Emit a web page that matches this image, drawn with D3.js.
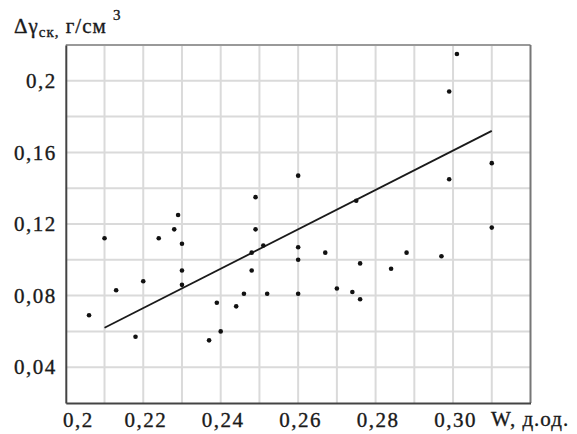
<!DOCTYPE html>
<html>
<head>
<meta charset="utf-8">
<script src="https://cdnjs.cloudflare.com/ajax/libs/d3/7.8.5/d3.min.js"></script>
<style>
  body { margin: 0; background: #fff; }
</style>
</head>
<body>
<svg id="chart" width="577" height="434"></svg>
<script>
// W, д.од. (moisture) and Δγск, г/см3
var wValues = [0.206, 0.210, 0.213, 0.218, 0.220, 0.224, 0.228, 0.229, 0.230, 0.230,
               0.230, 0.237, 0.239, 0.240, 0.244, 0.246, 0.248, 0.248, 0.249, 0.249,
               0.251, 0.252, 0.260, 0.260, 0.260, 0.260, 0.267, 0.270, 0.274, 0.275,
               0.276, 0.276, 0.284, 0.288, 0.297, 0.299, 0.299, 0.301, 0.310, 0.310];
var gValues = [0.069, 0.112, 0.083, 0.057, 0.088, 0.112, 0.117, 0.125, 0.109, 0.094,
               0.086, 0.055, 0.076, 0.060, 0.074, 0.081, 0.104, 0.094, 0.135, 0.117,
               0.108, 0.081, 0.147, 0.107, 0.100, 0.081, 0.104, 0.084, 0.082, 0.133,
               0.078, 0.098, 0.095, 0.104, 0.102, 0.194, 0.145, 0.215, 0.154, 0.118];

// regression line end points
var trendW = [0.21, 0.31];
var trendG = [0.062, 0.172];

var xTicks = [0.20, 0.22, 0.24, 0.26, 0.28, 0.30];
var xTickLabels = ["0,2", "0,22", "0,24", "0,26", "0,28", "0,30"];
var yTicks = [0.04, 0.08, 0.12, 0.16, 0.20];
var yTickLabels = ["0,04", "0,08", "0,12", "0,16", "0,2"];
var xGrid = [0.21, 0.22, 0.23, 0.24, 0.25, 0.26, 0.27, 0.28, 0.29, 0.30, 0.31];
var yGrid = [0.04, 0.06, 0.08, 0.10, 0.12, 0.14, 0.16, 0.18, 0.20];

var FONT = "'Liberation Serif'";

var svg = d3.select("#chart");

var x = d3.scaleLinear().domain([0.20, 0.32]).range([65.8, 530.5]);
var y = d3.scaleLinear().domain([0.02, 0.22]).range([403, 45]);

function serif(sel, size) {
  sel.style("font-family", FONT)
    .attr("font-size", size)
    .attr("fill", "#1a1a1a")
    .attr("stroke", "#1a1a1a")
    .attr("stroke-width", 0.35);
}

// grid
var grid = svg.append("g").attr("class", "grid")
  .attr("stroke", "#dadada").attr("stroke-width", 2);
grid.selectAll("line.v").data(xGrid).enter().append("line")
  .attr("class", "v")
  .attr("x1", function(d) { return x(d); }).attr("x2", function(d) { return x(d); })
  .attr("y1", y(0.22)).attr("y2", y(0.02));
grid.selectAll("line.h").data(yGrid).enter().append("line")
  .attr("class", "h")
  .attr("x1", x(0.20)).attr("x2", x(0.32))
  .attr("y1", function(d) { return y(d); }).attr("y2", function(d) { return y(d); });

// frame
svg.append("line").attr("x1", x(0.20)).attr("x2", x(0.32)).attr("y1", y(0.22)).attr("y2", y(0.22))
  .attr("stroke", "#999").attr("stroke-width", 2);
svg.append("line").attr("x1", x(0.32)).attr("x2", x(0.32)).attr("y1", y(0.22)).attr("y2", y(0.02))
  .attr("stroke", "#777").attr("stroke-width", 2);

// axes
var xAxis = d3.axisBottom(x).tickValues(xTicks).tickSize(0).tickPadding(9)
  .tickFormat(function(d, i) { return xTickLabels[i]; });
var gx = svg.append("g").attr("transform", "translate(0," + y(0.02) + ")").call(xAxis);
gx.select(".domain").attr("stroke", "#444").attr("stroke-width", 2);
gx.selectAll("text").call(serif, 21).attr("letter-spacing", 1.5)
  .attr("dx", function(d, i) { return i === 0 ? 12 : 2; });

var yAxis = d3.axisLeft(y).tickValues(yTicks).tickSize(0).tickPadding(9)
  .tickFormat(function(d, i) { return yTickLabels[i]; });
var gy = svg.append("g").attr("transform", "translate(" + x(0.20) + ",0)").call(yAxis);
gy.select(".domain").attr("stroke", "#444").attr("stroke-width", 2);
gy.selectAll("text").call(serif, 21).attr("letter-spacing", 1.5);

// axis titles
var yTitle = svg.append("text").attr("x", 14).attr("y", 33).attr("letter-spacing", 1).call(serif, 21);
yTitle.append("tspan").text("Δγ");
yTitle.append("tspan").attr("font-size", 15).attr("dy", 4).text("ск,");
yTitle.append("tspan").attr("dy", -4).text(" г/см ");
yTitle.append("tspan").attr("font-size", 15).attr("dy", -13).text("3");

svg.append("text").attr("x", 491).attr("y", 426).attr("letter-spacing", 1).call(serif, 21)
  .text("W, д.од.");

// regression line
var trend = trendW.map(function(w, i) { return [w, trendG[i]]; });
svg.append("path").datum(trend)
  .attr("fill", "none").attr("stroke", "#1a1a1a").attr("stroke-width", 1.8)
  .attr("d", d3.line().x(function(d) { return x(d[0]); }).y(function(d) { return y(d[1]); }));

// points
var pts = wValues.map(function(w, i) { return { w: w, g: gValues[i] }; });
svg.append("g").selectAll("circle").data(pts).enter().append("circle")
  .attr("cx", function(d) { return x(d.w); })
  .attr("cy", function(d) { return y(d.g); })
  .attr("r", 2.3)
  .attr("fill", "#111");
</script>
</body>
</html>
